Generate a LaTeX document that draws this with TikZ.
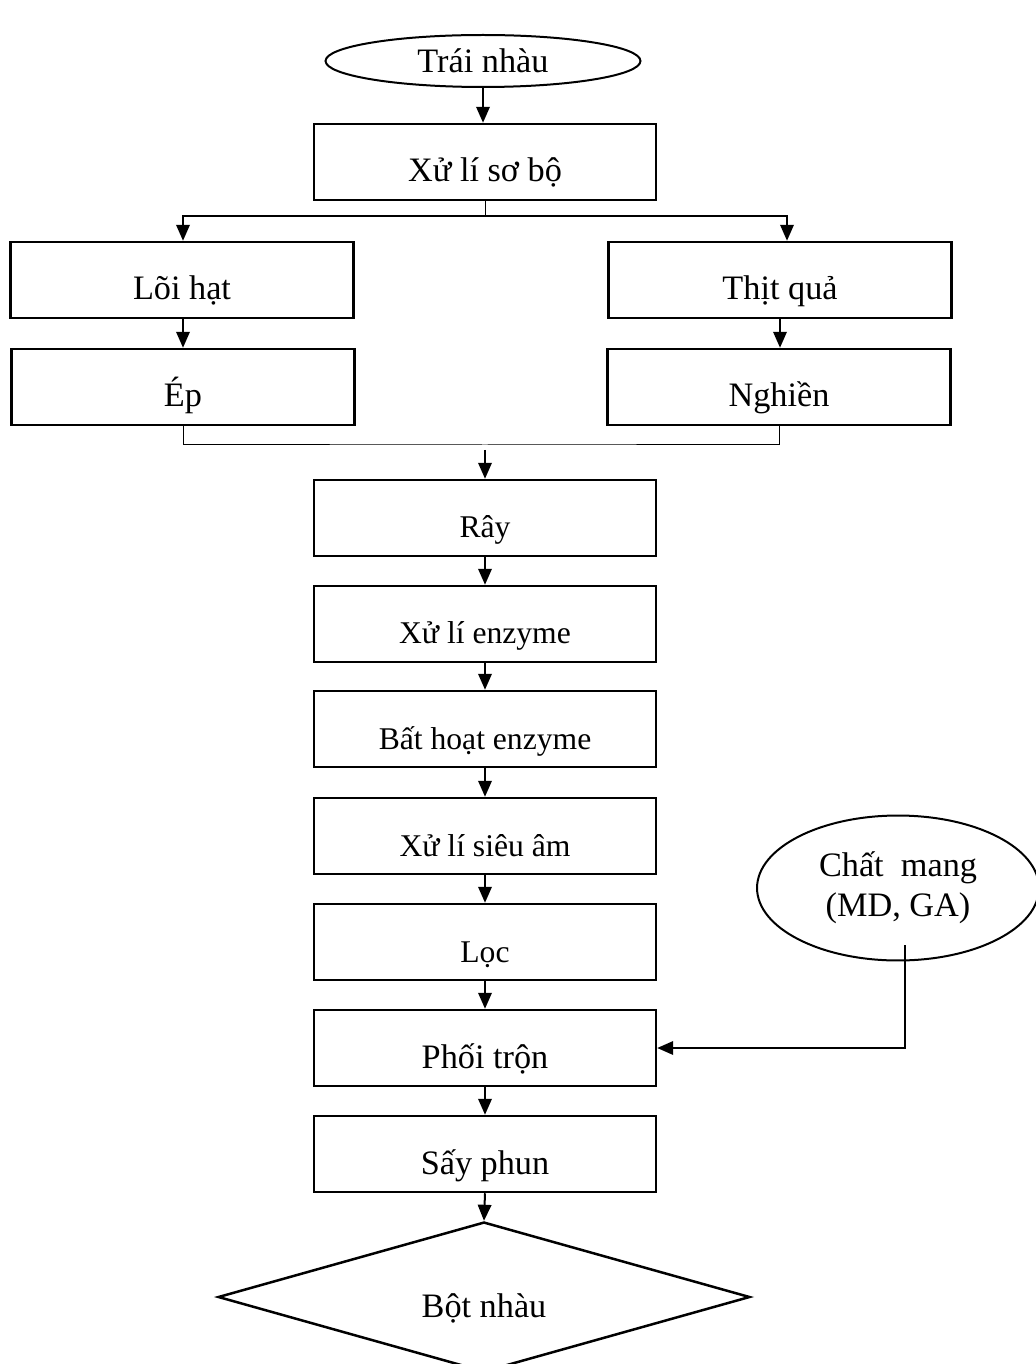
\documentclass[tikz,border=0pt]{standalone}
\usepackage{fontspec}
\setmainfont{Liberation Serif}
\usetikzlibrary{shapes.geometric,arrows.meta}
\newcommand\bigtext{\fontsize{19.5}{23}\selectfont}
\newcommand\smalltext{\fontsize{18}{21}\selectfont}
\tikzset{
  stepbox/.style={draw,line width=0.05cm,minimum width=6.84cm,minimum height=1.52cm,
    inner sep=0pt,text height=0.9cm,text depth=0.1cm,font=\bigtext},
  smallbox/.style={stepbox,font=\smalltext},
  oval/.style={draw,ellipse,line width=0.04cm,inner sep=0pt,font=\bigtext},
  product/.style={draw,diamond,aspect=3.5,line width=0.05cm,minimum width=10.64cm,minimum height=3cm,
    inner sep=0pt,text height=0.9cm,text depth=0.1cm,font=\bigtext},
  flow/.style={line width=0.04cm,-{Triangle[length=0.32cm,width=0.27cm]}},
  link/.style={line width=0.02cm}
}
\begin{document}
\begin{tikzpicture}[x=0.02cm,y=-0.02cm]
        \useasboundingbox (0,0) rectangle (1035,1364);%

        % Marking raw fruit
        \node [oval,minimum width=6.3cm,minimum height=1.04cm] (trai) at (483,61) {Trái nhàu};%

        % Marking pre-treatment
        \node [stepbox] (sobo) at (485,162) {Xử lí sơ bộ};%

        % Marking the two branches
        \node [stepbox,minimum width=6.86cm] (loi) at (182,280) {Lõi hạt};%
        \node [stepbox,minimum width=6.86cm] (thit) at (780,280) {Thịt quả};%
        \node [stepbox,minimum width=6.86cm] (ep) at (183,387) {Ép};%
        \node [stepbox,minimum width=6.86cm] (nghien) at (779,387) {Nghiền};%

        % Marking the main column
        \node [smallbox] (ray) at (485,518) {Rây};%
        \node [smallbox] (enzyme) at (485,624) {Xử lí enzyme};%
        \node [smallbox] (bathoat) at (485,729) {Bất hoạt enzyme};%
        \node [smallbox] (sieuam) at (485,836) {Xử lí siêu âm};%
        \node [smallbox] (loc) at (485,942) {Lọc};%
        \node [stepbox] (phoi) at (485,1048) {Phối trộn};%
        \node [stepbox] (say) at (485,1154) {Sấy phun};%

        % Marking product
        \node [product] (bot) at (484,1297) {Bột nhàu};%

        % Marking carrier
        \node [oval,minimum width=5.64cm,minimum height=2.9cm,align=center] (mang) at (898,888)
              {Chất\ \ mang\\(MD, GA)};%

        % Helper points
        \coordinate (split) at (485,216);%
        \coordinate (forkL) at (183,216);%
        \coordinate (forkR) at (787,216);%
        \coordinate (merge) at (485,445);%
        \coordinate (mergeTop) at (485,450);%
        \coordinate (mangDrop) at (905,945);%

        % Drawing top arrows
        \draw [flow] (trai.south) -- (trai.south |- sobo.north);%
        \draw [link] (sobo.south) -- (split);%
        \draw [line width=0.04cm,{Triangle[length=0.32cm,width=0.27cm]}-{Triangle[length=0.32cm,width=0.27cm]}]
              (loi.north -| forkL) |- (forkR) -- (thit.north -| forkR);%

        % Drawing branch arrows
        \draw [flow] (loi.south -| forkL) -- (ep.north -| forkL);%
        \draw [flow] (thit.south) -- (nghien.north -| thit.south);%
        \draw [link] (ep.south) |- (merge) -| (nghien.south);%
        \draw [flow] (mergeTop) -- (ray.north);%

        % Drawing main column arrows
        \draw [flow] (ray.south) -- (enzyme.north);%
        \draw [flow] (enzyme.south) -- (bathoat.north);%
        \draw [flow] (bathoat.south) -- (sieuam.north);%
        \draw [flow] (sieuam.south) -- (loc.north);%
        \draw [flow] (loc.south) -- (phoi.north);%
        \draw [flow] (phoi.south) -- (say.north);%
        \draw [flow] (say.south) -- (bot.north);%

        % Drawing carrier arrow
        \draw [flow] (mangDrop) |- (phoi.east);%
\end{tikzpicture}
\end{document}
